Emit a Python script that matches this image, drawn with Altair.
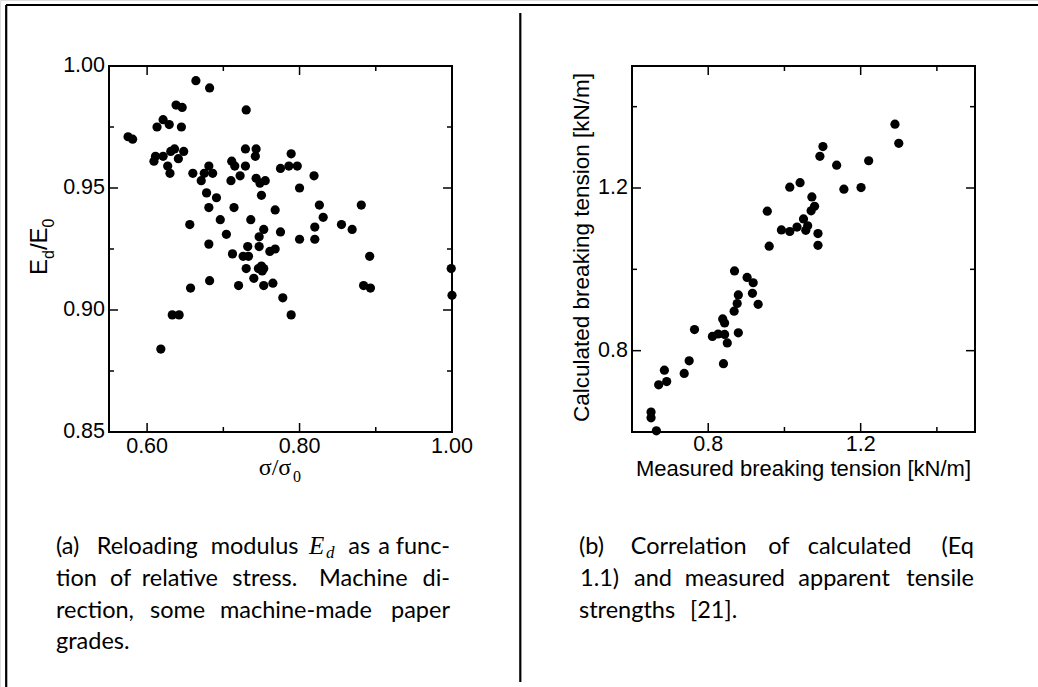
import altair as alt
import pandas as pd

# ---------------- data: panel (a) ----------------
a_x = [0.575, 0.581, 0.664, 0.682, 0.730, 0.638, 0.646, 0.613, 0.621, 0.629,
       0.645, 0.609, 0.611, 0.621, 0.627, 0.630, 0.631, 0.636, 0.641, 0.648,
       0.660, 0.671, 0.675, 0.681, 0.686, 0.678, 0.691, 0.681, 0.656, 0.696,
       0.704, 0.681, 0.714, 0.711, 0.715, 0.710, 0.722, 0.729, 0.729, 0.743,
       0.742, 0.743, 0.748, 0.755, 0.750, 0.768, 0.736, 0.747, 0.753, 0.775,
       0.732, 0.747, 0.712, 0.726, 0.733, 0.761, 0.768, 0.730, 0.750, 0.753,
       0.746, 0.751, 0.740, 0.720, 0.753, 0.765, 0.682, 0.657, 0.778, 0.789,
       0.633, 0.642, 0.618, 0.789, 0.775, 0.786, 0.797, 0.800, 0.819, 0.826,
       0.831, 0.820, 0.800, 0.820, 0.855, 0.869, 0.881, 0.892, 0.884, 0.893,
       0.999, 1.000]
a_y = [0.971, 0.970, 0.994, 0.991, 0.982, 0.984, 0.983, 0.975, 0.978, 0.976,
       0.975, 0.961, 0.963, 0.963, 0.959, 0.956, 0.965, 0.966, 0.962, 0.965,
       0.956, 0.953, 0.956, 0.959, 0.956, 0.948, 0.946, 0.942, 0.935, 0.937,
       0.931, 0.927, 0.942, 0.961, 0.959, 0.953, 0.955, 0.966, 0.959, 0.966,
       0.963, 0.954, 0.952, 0.953, 0.947, 0.941, 0.937, 0.930, 0.933, 0.932,
       0.926, 0.926, 0.923, 0.922, 0.922, 0.924, 0.925, 0.917, 0.918, 0.917,
       0.917, 0.916, 0.913, 0.910, 0.910, 0.911, 0.912, 0.909, 0.905, 0.898,
       0.898, 0.898, 0.884, 0.964, 0.958, 0.959, 0.959, 0.950, 0.955, 0.943,
       0.938, 0.934, 0.929, 0.929, 0.935, 0.933, 0.943, 0.922, 0.910, 0.909,
       0.917, 0.906]

# ---------------- data: panel (b) ----------------
b_x = [1.290, 1.300, 1.101, 1.093, 1.137, 1.221, 1.156, 1.201, 1.014, 1.041,
       1.072, 1.079, 1.070, 0.955, 1.050, 1.033, 1.061, 1.056, 0.992, 1.014,
       1.088, 0.960, 1.088, 0.869, 0.902, 0.918, 0.916, 0.879, 0.876, 0.868,
       0.931, 0.838, 0.843, 0.764, 0.811, 0.826, 0.843, 0.879, 0.850, 0.750,
       0.840, 0.737, 0.685, 0.691, 0.670, 0.650, 0.650, 0.664]
b_y = [1.357, 1.310, 1.302, 1.278, 1.256, 1.267, 1.197, 1.201, 1.202, 1.213,
       1.178, 1.155, 1.144, 1.143, 1.124, 1.104, 1.107, 1.096, 1.097, 1.093,
       1.088, 1.057, 1.059, 0.996, 0.980, 0.967, 0.941, 0.937, 0.916, 0.897,
       0.914, 0.878, 0.868, 0.852, 0.835, 0.841, 0.840, 0.844, 0.819, 0.775,
       0.768, 0.744, 0.752, 0.724, 0.716, 0.649, 0.635, 0.603]

# ---------------- axis ticks ----------------
a_major_x = [0.60, 0.80, 1.00]
a_minor_x = [0.70, 0.90]
a_major_y = [0.85, 0.90, 0.95, 1.00]
a_minor_y = [0.875, 0.925, 0.975]
b_major = [0.8, 1.2]
b_minor = [1.0, 1.4]

# ---------------- captions ----------------
cap_a_lines = [
    ["(a)", "Reloading", "modulus", "as", "a", "func-"],
    ["tion", "of", "relative", "stress.", "Machine", "di-"],
    ["rection,", "some", "machine-made", "paper"],
    ["grades."],
]
cap_b_lines = [
    ["(b)", "Correlation", "of", "calculated", "(Eq"],
    ["1.1)", "and", "measured", "apparent", "tensile"],
    ["strengths", "[21]."],
]

# ---------------- layout (pixels) ----------------
W, H = 1038, 687
TOP, BOT = 66, 432
AX0, AX1 = 109, 452
BX0, BX1 = 632, 975
MAJ, MIN = 9, 5
TICK_FONT = "Liberation Sans"
TICK_SIZE = 21.5
LINE_Y = [554, 586, 617.5, 649]
cap_a_x = [
    [56, 96.7, 210.7, 348.3, 378.3, 450],
    [56, 110, 141.7, 232.3, 319, 450],
    [56, 150, 220, 450],
    [56],
]
cap_b_x = [
    [579, 630.7, 768.3, 807.7, 974],
    [580, 634, 684.7, 798.3, 974],
    [579, 690],
]
CAP_FONT = "Lato"
CAP_SIZE = 23.5


def panel(xs, ys, xdom, ydom, x0, x1, maj_x, min_x, maj_y, min_y, lab_x, lab_y, fmt, xlab_y, ylab_x):
    xs_ = alt.Scale(domain=xdom, range=[x0, x1], nice=False, zero=False)
    ys_ = alt.Scale(domain=ydom, range=[BOT, TOP], nice=False, zero=False)
    X = lambda: alt.X("v:Q", scale=xs_, axis=None)
    Y = lambda: alt.Y("v:Q", scale=ys_, axis=None)
    frame = alt.Chart(pd.DataFrame({"a": [0]})).mark_rect(
        fill=None, stroke="black", strokeWidth=2
    ).encode(x=alt.value(x0), x2=alt.value(x1), y=alt.value(TOP), y2=alt.value(BOT))
    layers = [frame]
    for vals, ln in ((maj_x, MAJ), (min_x, MIN)):
        d = pd.DataFrame({"v": vals})
        layers.append(alt.Chart(d).mark_rule(color="black", strokeWidth=1.5).encode(
            x=X(), y=alt.value(BOT), y2=alt.value(BOT - ln)))
        layers.append(alt.Chart(d).mark_rule(color="black", strokeWidth=1.5).encode(
            x=X(), y=alt.value(TOP), y2=alt.value(TOP + ln)))
    for vals, ln in ((maj_y, MAJ), (min_y, MIN)):
        d = pd.DataFrame({"v": vals})
        layers.append(alt.Chart(d).mark_rule(color="black", strokeWidth=1.5).encode(
            y=Y(), x=alt.value(x0), x2=alt.value(x0 + ln)))
        layers.append(alt.Chart(d).mark_rule(color="black", strokeWidth=1.5).encode(
            y=Y(), x=alt.value(x1), x2=alt.value(x1 - ln)))
    layers.append(alt.Chart(pd.DataFrame({"v": lab_x})).mark_text(
        font=TICK_FONT, fontSize=TICK_SIZE, align="center", baseline="alphabetic", color="black"
    ).encode(x=X(), y=alt.value(xlab_y), text=alt.Text("v:Q", format=fmt)))
    layers.append(alt.Chart(pd.DataFrame({"v": lab_y})).mark_text(
        font=TICK_FONT, fontSize=TICK_SIZE, align="right", baseline="middle", color="black"
    ).encode(y=Y(), x=alt.value(ylab_x), text=alt.Text("v:Q", format=fmt)))
    pts = pd.DataFrame({"px": xs, "py": ys})
    layers.append(alt.Chart(pts).mark_circle(size=85, color="black", opacity=1).encode(
        x=alt.X("px:Q", scale=xs_, axis=None), y=alt.Y("py:Q", scale=ys_, axis=None)))
    return alt.layer(*layers)


pa = panel(a_x, a_y, [0.55, 1.0], [0.85, 1.0], AX0, AX1, a_major_x, a_minor_x,
           a_major_y, a_minor_y, a_major_x, a_major_y, ".2f", 453, 105)
pb = panel(b_x, b_y, [0.6, 1.5], [0.6, 1.5], BX0, BX1, b_major, b_minor,
           b_major, b_minor, b_major, b_major, ".1f", 451, 628)


def txt(t, x, y, size, font=TICK_FONT, align="left", angle=0, style="normal"):
    return alt.Chart(pd.DataFrame({"a": [0]})).mark_text(
        text=t, font=font, fontSize=size, align=align, baseline="alphabetic",
        angle=angle, fontStyle=style, color="black"
    ).encode(x=alt.value(x), y=alt.value(y))


deco = []
# figure border and divider
deco.append(alt.Chart(pd.DataFrame({"a": [0]})).mark_rule(color="black", strokeWidth=2).encode(
    x=alt.value(6), x2=alt.value(W), y=alt.value(5)))
deco.append(alt.Chart(pd.DataFrame({"a": [0]})).mark_rule(color="black", strokeWidth=2.2).encode(
    x=alt.value(6.2), y=alt.value(5), y2=alt.value(H)))
deco.append(alt.Chart(pd.DataFrame({"a": [0]})).mark_rule(color="black", strokeWidth=2.2).encode(
    x=alt.value(520.3), y=alt.value(13), y2=alt.value(682)))

# axis titles panel (a)
deco.append(txt("\u03c3/\u03c3", 275, 475, 24, font="Liberation Serif", align="center"))
deco.append(txt("0", 293, 482, 16, font="Liberation Serif"))
deco.append(txt("E", 46.7, 275, 24, angle=270))
deco.append(txt("d", 53.5, 259, 16, angle=270))
deco.append(txt("/E", 46.7, 250.1, 24, angle=270))
deco.append(txt("0", 53.5, 227.4, 16, angle=270))
# axis titles panel (b)
deco.append(txt("Measured breaking tension [kN/m]", 803.5, 476, 22, align="center"))
deco.append(txt("Calculated breaking tension [kN/m]", 589, 247.5, 22.5, align="center", angle=270))

# captions
rows = []
for lines, xs, right in ((cap_a_lines, cap_a_x, 450), (cap_b_lines, cap_b_x, 974)):
    for i, (words, pos) in enumerate(zip(lines, xs)):
        for j, (w, px) in enumerate(zip(words, pos)):
            al = "right" if (px == right) else "left"
            rows.append({"w": w, "x": px, "y": LINE_Y[i], "al": al})
cap = pd.DataFrame(rows)
deco.append(alt.Chart(cap[cap.al == "left"]).mark_text(
    font=CAP_FONT, fontSize=CAP_SIZE, align="left", baseline="alphabetic", color="black"
).encode(x=alt.X("x:Q", scale=None), y=alt.Y("y:Q", scale=None), text="w:N"))
deco.append(alt.Chart(cap[cap.al == "right"]).mark_text(
    font=CAP_FONT, fontSize=CAP_SIZE, align="right", baseline="alphabetic", color="black"
).encode(x=alt.X("x:Q", scale=None), y=alt.Y("y:Q", scale=None), text="w:N"))
# math E_d in caption (a)
deco.append(txt("E", 309, 554, 25, font="Liberation Serif", style="italic"))
deco.append(txt("d", 326, 558, 17, font="Liberation Serif", style="italic"))

chart = alt.layer(pa, pb, *deco).resolve_scale(x="independent", y="independent").properties(
    width=W, height=H, autosize=alt.AutoSizeParams(type="none"), padding=0
).configure_view(stroke=None).configure(background="white")

chart.save("out.html", embed_options={"renderer": "svg", "actions": False})
